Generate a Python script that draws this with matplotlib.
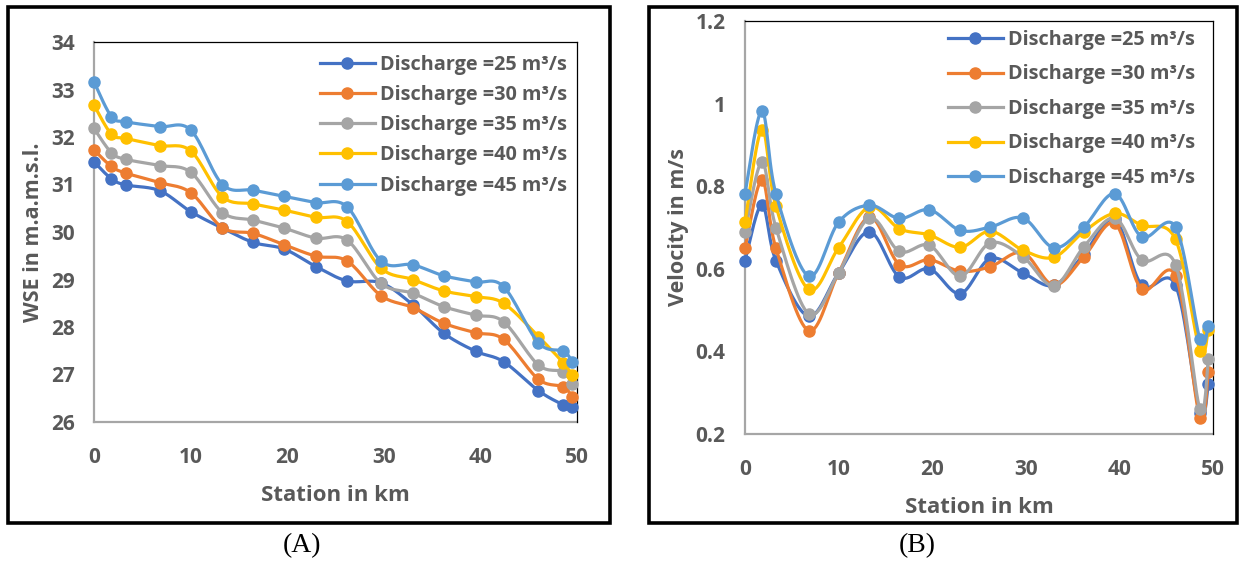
import numpy as np
import matplotlib
matplotlib.use("Agg")
import matplotlib.pyplot as plt
from matplotlib.lines import Line2D
from matplotlib.patches import Rectangle

# ---------------- data ----------------
stations = [0, 1.8, 3.3, 6.8, 10.0, 13.3, 16.5, 19.7, 23.0, 26.2, 29.7,
            33.0, 36.2, 39.5, 42.4, 46.0, 48.6, 49.5]

series_labels = ["Discharge =25 m³/s", "Discharge =30 m³/s", "Discharge =35 m³/s",
                 "Discharge =40 m³/s", "Discharge =45 m³/s"]
colors = ["#4472C4", "#ED7D31", "#A5A5A5", "#FFC000", "#5B9BD5"]

wse_25 = [31.48, 31.12, 30.99, 30.87, 30.43, 30.08, 29.78, 29.64, 29.27, 28.97,
          28.93, 28.47, 27.87, 27.49, 27.27, 26.66, 26.36, 26.31]
wse_30 = [31.73, 31.38, 31.24, 31.04, 30.83, 30.09, 29.97, 29.73, 29.49, 29.39,
          28.66, 28.41, 28.08, 27.88, 27.74, 26.90, 26.74, 26.52]
wse_35 = [32.18, 31.67, 31.53, 31.40, 31.26, 30.41, 30.25, 30.08, 29.87, 29.83,
          28.92, 28.71, 28.43, 28.25, 28.11, 27.20, 27.06, 26.81]
wse_40 = [32.67, 32.06, 31.97, 31.82, 31.71, 30.74, 30.59, 30.46, 30.31, 30.22,
          29.24, 29.00, 28.76, 28.64, 28.50, 27.80, 27.24, 26.99]
wse_45 = [33.16, 32.43, 32.32, 32.22, 32.15, 31.00, 30.88, 30.75, 30.62, 30.53,
          29.39, 29.31, 29.08, 28.95, 28.85, 27.67, 27.49, 27.27]

vel_25 = [0.620, 0.755, 0.620, 0.485, 0.590, 0.690, 0.580, 0.600, 0.540, 0.625,
          0.590, 0.560, 0.635, 0.720, 0.560, 0.560, 0.250, 0.320]
vel_30 = [0.650, 0.815, 0.650, 0.450, 0.590, 0.725, 0.610, 0.622, 0.594, 0.605,
          0.639, 0.560, 0.629, 0.710, 0.550, 0.583, 0.239, 0.349]
vel_35 = [0.690, 0.858, 0.700, 0.491, 0.590, 0.723, 0.642, 0.657, 0.582, 0.663,
          0.629, 0.559, 0.653, 0.723, 0.621, 0.610, 0.260, 0.382]
vel_40 = [0.713, 0.937, 0.752, 0.550, 0.651, 0.750, 0.697, 0.682, 0.652, 0.691,
          0.645, 0.628, 0.690, 0.734, 0.705, 0.671, 0.402, 0.453]
vel_45 = [0.782, 0.982, 0.782, 0.582, 0.713, 0.754, 0.722, 0.743, 0.693, 0.701,
          0.723, 0.651, 0.701, 0.782, 0.677, 0.701, 0.430, 0.461]

wse_ticks = [26, 27, 28, 29, 30, 31, 32, 33, 34]
vel_ticks = [0.2, 0.4, 0.6, 0.8, 1.0, 1.2]
vel_tick_labels = ["0.2", "0.4", "0.6", "0.8", "1", "1.2"]
x_ticks = [0, 10, 20, 30, 40, 50]

# ---------------- style ----------------
FONT = ["Open Sans", "DejaVu Sans"]
TXT = "#595959"
plt.rcParams["font.family"] = FONT


def smooth(x, y, n=16):
    """Excel-like smoothed line (Bezier through each pair of points)."""
    p = np.column_stack([x, y]).astype(float)
    m = len(p)
    out = [p[0]]
    t = np.linspace(0, 1, n + 1)[1:, None]
    for i in range(m - 1):
        p0 = p[i - 1] if i > 0 else p[i]
        p1, p2 = p[i], p[i + 1]
        p3 = p[i + 2] if i + 2 < m else p[i + 1]
        c1 = p1 + (p2 - p0) / 6.0
        c2 = p2 - (p3 - p1) / 6.0
        seg = ((1 - t) ** 3) * p1 + 3 * ((1 - t) ** 2) * t * c1 + 3 * (1 - t) * t ** 2 * c2 + t ** 3 * p2
        out.extend(seg)
    out = np.array(out)
    return out[:, 0], out[:, 1]


W, H = 1241, 561
fig = plt.figure(figsize=(W / 100, H / 100), dpi=100)


def fr(x0, y0, x1, y1):
    return [x0 / W, 1 - y1 / H, (x1 - x0) / W, (y1 - y0) / H]


# outer frames
for (x0, y0, x1, y1) in [(8, 7, 610, 523), (649, 7, 1237, 523)]:
    fig.patches.append(Rectangle((x0 / W, 1 - y1 / H), (x1 - x0) / W, (y1 - y0) / H,
                                 transform=fig.transFigure, fill=False,
                                 edgecolor="black", linewidth=2.6, zorder=0))

axA = fig.add_axes(fr(94, 42, 577, 422))
axB = fig.add_axes(fr(745, 21, 1213, 434))

LW = 2.3
MS = 8.0


def draw(ax, ys):
    for k, (yv, c) in enumerate(zip(ys, colors)):
        sx, sy = smooth(stations, yv)
        ax.plot(sx, sy, color=c, lw=LW, zorder=3 + k * 2, solid_capstyle="round",
                clip_on=False)
        ax.plot(stations, yv, linestyle="none", marker="o", ms=MS, color=c,
                markeredgecolor=c, zorder=4 + k * 2, clip_on=False)


draw(axA, [wse_25, wse_30, wse_35, wse_40, wse_45])
draw(axB, [vel_25, vel_30, vel_35, vel_40, vel_45])

axA.set_xlim(0, 50)
axA.set_ylim(26, 34)
axA.set_yticks(wse_ticks)
axA.set_xticks(x_ticks)
axB.set_xlim(0, 50)
axB.set_ylim(0.2, 1.2)
axB.set_yticks(vel_ticks)
axB.set_yticklabels(vel_tick_labels)
axB.set_xticks(x_ticks)

for ax in (axA, axB):
    for s in ("top", "right"):
        ax.spines[s].set_color("black")
        ax.spines[s].set_linewidth(0.9)
    for s in ("left", "bottom"):
        ax.spines[s].set_color("#A6A6A6")
        ax.spines[s].set_linewidth(1.6)
        ax.spines[s].set_zorder(2)
    ax.tick_params(length=0, labelsize=15, labelcolor=TXT)
    ax.tick_params(axis="y", pad=14)
    ax.tick_params(axis="x", pad=18)
    for lab in ax.get_xticklabels() + ax.get_yticklabels():
        lab.set_fontweight("bold")

axA.set_xlabel("Station in km", fontsize=16, fontweight="bold", color=TXT, labelpad=12)
axA.set_ylabel("WSE in m.a.m.s.l.", fontsize=15.5, fontweight="bold", color=TXT, labelpad=5)
axB.set_xlabel("Station in km", fontsize=16, fontweight="bold", color=TXT, labelpad=12)
axB.set_ylabel("Velocity in m/s", fontsize=15.5, fontweight="bold", color=TXT, labelpad=5)

handles = [Line2D([], [], color=c, lw=LW, marker="o", ms=MS) for c in colors]

LEG_FS = 14.3


def add_legend(ax, x_px, y_px, spacing):
    leg = ax.legend(handles, series_labels, loc="upper left",
                    bbox_to_anchor=(x_px / W, 1 - y_px / H),
                    bbox_transform=fig.transFigure, frameon=False,
                    prop={"family": FONT, "weight": "bold", "size": LEG_FS},
                    handlelength=2.75, handletextpad=0.25, borderpad=0,
                    borderaxespad=0, labelspacing=spacing)
    for t in leg.get_texts():
        t.set_color(TXT)
    leg.set_zorder(20)


add_legend(axA, 320, 55, 0.51)
add_legend(axB, 948, 30, 0.73)

fig.text(302 / W, 1 - 546 / H, "(A)", ha="center", va="center",
         fontsize=20, family=["Liberation Serif", "DejaVu Serif"])
fig.text(917 / W, 1 - 546 / H, "(B)", ha="center", va="center",
         fontsize=20, family=["Liberation Serif", "DejaVu Serif"])

fig.savefig("out.png", dpi=100)
